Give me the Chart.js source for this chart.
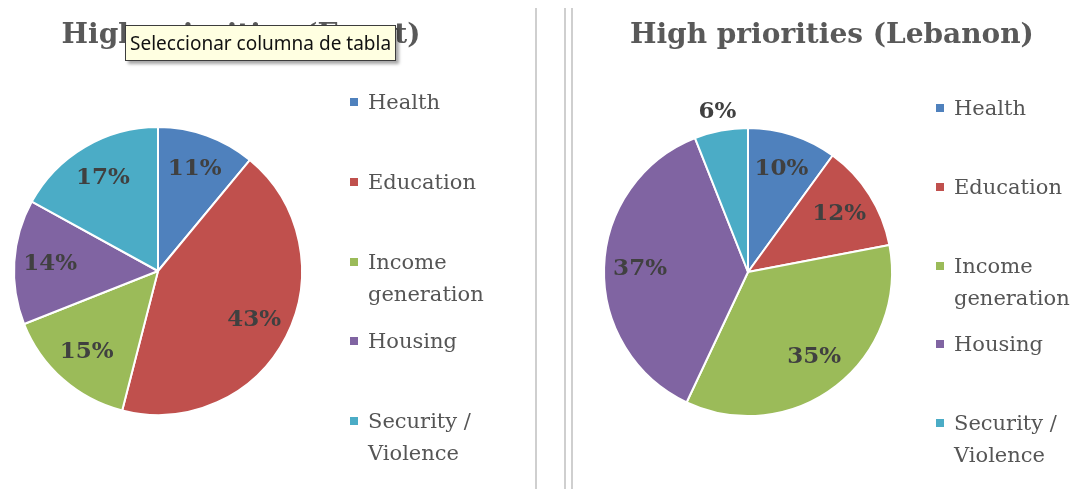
<!DOCTYPE html>
<html>
<head>
<meta charset="utf-8">
<script src="https://cdn.jsdelivr.net/npm/chart.js@4/dist/chart.umd.min.js"></script>
<style>
  html, body { margin: 0; padding: 0; background: #ffffff; }
  #page { position: relative; width: 1076px; height: 489px; overflow: hidden; background: #fff; }
  .panel { position: absolute; top: 0; height: 489px; }
  .panel canvas { position: absolute; left: 0; top: 0; }
  .title {
    position: absolute; top: 16px; white-space: nowrap; text-align: center;
    font-family: "DejaVu Serif", serif; font-weight: bold; font-size: 28px;
    color: #595959; line-height: 36px;
  }
  .legend-item { position: absolute; }
  .legend-item .box { position: absolute; left: 0; width: 8px; height: 8px; top: 12px; }
  .legend-item .txt {
    position: absolute; left: 18px; font-family: "DejaVu Serif", serif; font-size: 21px;
    line-height: 32px; color: #555555;
  }
  .sep { position: absolute; top: 8px; bottom: 0; width: 2px; background: #cfcfcf; }
  .tip {
    position: absolute; left: 125px; top: 25px; width: 265px; height: 34px;
    background: #ffffe1; border: 1px solid #3c3c3c; box-sizing: content-box;
    box-shadow: 3px 3px 3px rgba(0,0,0,0.35);
    font-family: "Noto Sans", sans-serif; font-size: 19px; line-height: 34px;
    color: #111; padding-left: 4px; white-space: nowrap; overflow: hidden;
  }
</style>
</head>
<body>
<div id="page">
  <div class="panel" id="panelL" style="left:0;width:530px;">
    <canvas id="pieL" width="530" height="489"></canvas>
  </div>
  <div class="panel" id="panelR" style="left:580px;width:496px;">
    <canvas id="pieR" width="496" height="489"></canvas>
  </div>
  <div class="sep" style="left:535px;"></div>
  <div class="sep" style="left:564px;"></div>
  <div class="sep" style="left:571px;"></div>
</div>
<script>
// Priority categories shared by both surveys
const categories = ['Health', 'Education', 'Income generation', 'Housing', 'Security / Violence'];
// Share of respondents (%) naming each category as a high priority
const egyptValues = [11, 43, 15, 14, 17];
const lebanonValues = [10, 12, 35, 37, 6];
const egyptTitle = 'High priorities (Egypt)';
const lebanonTitle = 'High priorities (Lebanon)';
const sliceColors = ['#4F81BD', '#C0504D', '#9BBB59', '#8064A2', '#4BACC6'];

// Percentage labels placed inside each slice; thin slices get their label just outside the rim
const sliceLabels = {
  id: 'sliceLabels',
  afterDatasetsDraw(chart) {
    const ctx = chart.ctx;
    const meta = chart.getDatasetMeta(0);
    const values = chart.data.datasets[0].data;
    ctx.save();
    ctx.font = 'bold 23px "DejaVu Serif", serif';
    ctx.fillStyle = '#404040';
    ctx.textAlign = 'center';
    ctx.textBaseline = 'middle';
    meta.data.forEach((arc, i) => {
      const p = arc.getProps(['x', 'y', 'startAngle', 'endAngle', 'outerRadius'], true);
      const mid = (p.startAngle + p.endAngle) / 2;
      const r = p.outerRadius * (values[i] < 8 ? 1.13 : 0.75);
      ctx.fillText(values[i] + '%', p.x + Math.cos(mid) * r, p.y + Math.sin(mid) * r);
    });
    ctx.restore();
  }
};

function makePie(canvasId, values, padding) {
  return new Chart(document.getElementById(canvasId), {
    type: 'pie',
    data: {
      labels: categories,
      datasets: [{
        data: values,
        backgroundColor: sliceColors,
        borderColor: '#ffffff',
        borderWidth: 2,
        hoverOffset: 0
      }]
    },
    options: {
      responsive: false,
      devicePixelRatio: 1,
      animation: false,
      layout: { padding: padding },
      plugins: {
        legend: { display: false },
        tooltip: { enabled: false },
        title: { display: false }
      }
    },
    plugins: [sliceLabels]
  });
}

// Title and legend built from the chart's own labels and colours
function decorate(chart, panel, title, titleBox, legendBox) {
  const t = document.createElement('div');
  t.className = 'title';
  t.style.left = titleBox.left + 'px';
  t.style.width = titleBox.width + 'px';
  t.textContent = title;
  panel.appendChild(t);
  const ds = chart.data.datasets[0];
  chart.data.labels.forEach((label, i) => {
    const item = document.createElement('div');
    item.className = 'legend-item';
    item.style.left = legendBox.left + 'px';
    item.style.top = (legendBox.top + i * legendBox.step) + 'px';
    const box = document.createElement('div');
    box.className = 'box';
    box.style.background = ds.backgroundColor[i];
    const txt = document.createElement('div');
    txt.className = 'txt';
    txt.style.width = legendBox.width + 'px';
    txt.textContent = label;
    item.appendChild(box);
    item.appendChild(txt);
    panel.appendChild(item);
  });
}

const chartL = makePie('pieL', egyptValues, { left: 13, right: 227, top: 126, bottom: 73 });
const chartR = makePie('pieR', lebanonValues, { left: 23, right: 183, top: 127, bottom: 72 });

decorate(chartL, document.getElementById('panelL'), egyptTitle,
  { left: 41, width: 400 }, { left: 350, top: 86, step: 79.75, width: 150 });
decorate(chartR, document.getElementById('panelR'), lebanonTitle,
  { left: 50, width: 400 }, { left: 356, top: 92, step: 78.75, width: 126 });

// Hover hint box shown over the left title
const tip = document.createElement('div');
tip.className = 'tip';
tip.textContent = 'Seleccionar columna de tabla';
document.getElementById('page').appendChild(tip);
</script>
</body>
</html>
